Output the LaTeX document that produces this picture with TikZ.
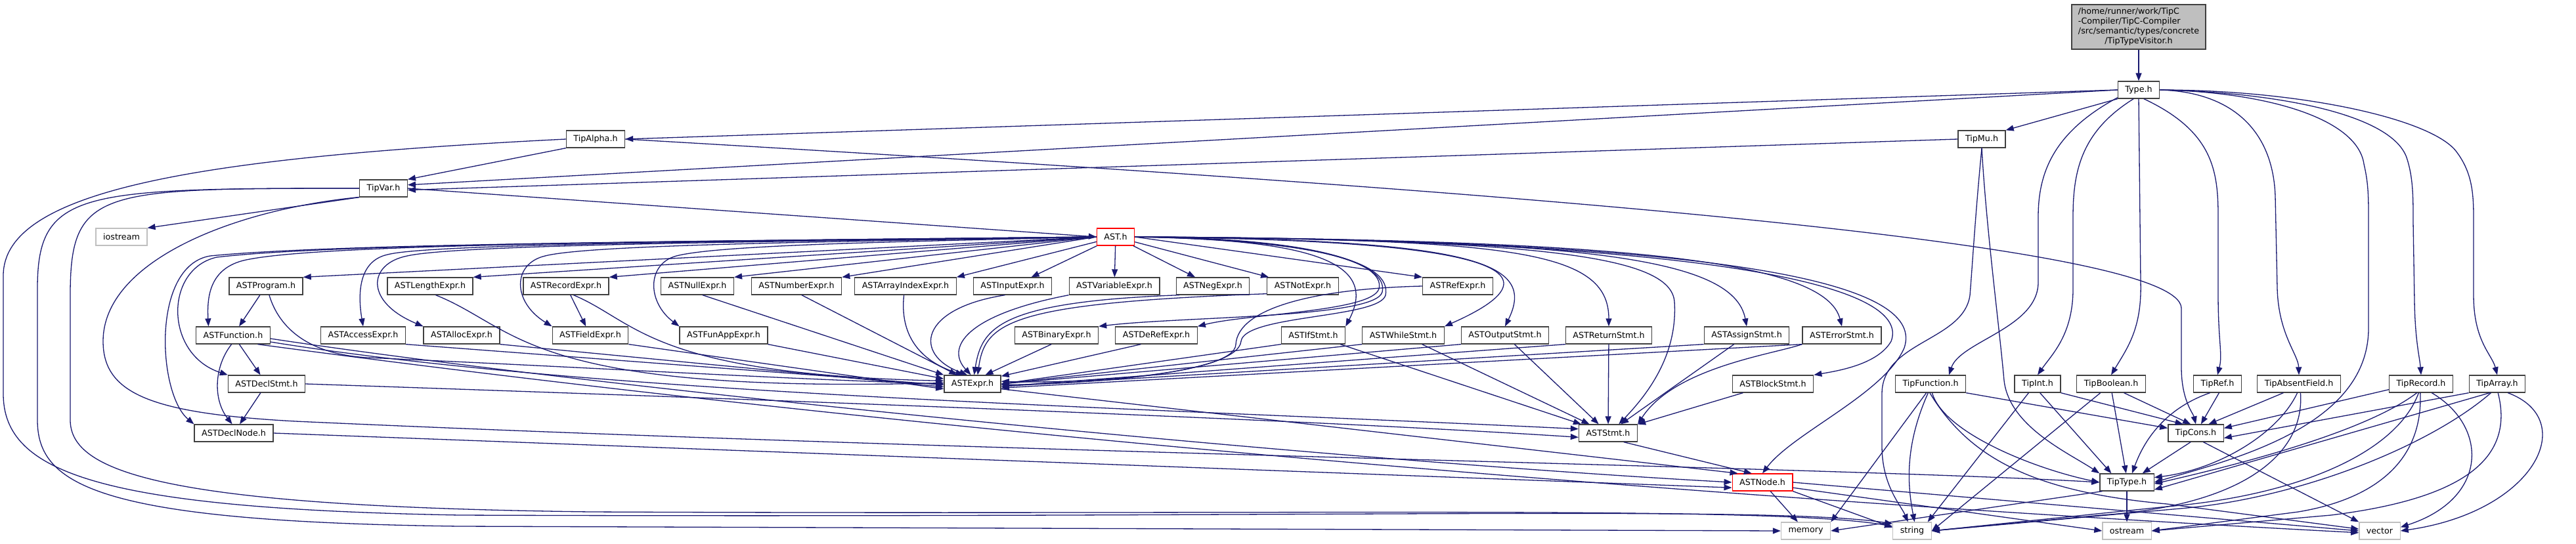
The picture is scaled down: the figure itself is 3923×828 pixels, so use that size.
\documentclass[tikz,border=0pt]{standalone}
\usepackage{fontspec}
\setmainfont{DejaVu Sans}
\usetikzlibrary{arrows.meta,calc}
\definecolor{edgeblue}{HTML}{191970}
\definecolor{extgray}{HTML}{BFBFBF}
\tikzset{
  box/.style={draw=black!75, line width=1.3pt, fill=white, minimum height=26pt, inner xsep=11pt, inner ysep=0pt, font=\fontsize{12.7}{15}\selectfont, text=black},
  extbox/.style={box, draw=extgray},
  redbox/.style={box, draw=red},
  topbox/.style={box, fill=extgray, inner xsep=10pt, inner ysep=4pt},
  e/.style={draw=edgeblue, line width=1.3pt, -{Triangle[length=12pt,width=9pt]}},
}
\begin{document}
\begin{tikzpicture}[x=1pt,y=-1pt]
\useasboundingbox (0,0) rectangle (3923,828);
% ---------------- nodes ----------------
\node[topbox] (top) at (3257,41) {\begin{tabular}{@{}l@{}}/home/runner/work/TipC\\-Compiler/TipC-Compiler\\/src/semantic/types/concrete\\\multicolumn{1}{@{}c@{}}{/TipTypeVisitor.h}\end{tabular}};
\node[box] (type) at (3257,137) {Type.h};
\node[box] (tipalpha) at (907,212) {TipAlpha.h};
\node[box] (tipmu) at (3018,212) {TipMu.h};
\node[box] (tipvar) at (584,287) {TipVar.h};
\node[extbox] (iostream) at (185,361) {iostream};
\node[redbox] (ast) at (1699,361) {AST.h};
% row 1
\node[box] (astprogram) at (405,436) {ASTProgram.h};
\node[box] (astlength) at (655,436) {ASTLengthExpr.h};
\node[box] (astrecord) at (862,436) {ASTRecordExpr.h};
\node[box] (astnull) at (1062,436) {ASTNullExpr.h};
\node[box] (astnumber) at (1213,436) {ASTNumberExpr.h};
\node[box] (astarrayindex) at (1379,436) {ASTArrayIndexExpr.h};
\node[box] (astinput) at (1542,436) {ASTInputExpr.h};
\node[box] (astvariable) at (1697,436) {ASTVariableExpr.h};
\node[box] (astneg) at (1847,436) {ASTNegExpr.h};
\node[box] (astnot) at (1984,436) {ASTNotExpr.h};
\node[box] (astref) at (2220,436) {ASTRefExpr.h};
% row 2
\node[box] (astfunction) at (355,511) {ASTFunction.h};
\node[box] (astaccess) at (553,511) {ASTAccessExpr.h};
\node[box] (astalloc) at (703,511) {ASTAllocExpr.h};
\node[box] (astfield) at (899,511) {ASTFieldExpr.h};
\node[box] (astfunapp) at (1102,511) {ASTFunAppExpr.h};
\node[box] (astbinary) at (1609,511) {ASTBinaryExpr.h};
\node[box] (astderef) at (1761,511) {ASTDeRefExpr.h};
\node[box] (astif) at (2000,511) {ASTIfStmt.h};
\node[box] (astwhile) at (2137,511) {ASTWhileStmt.h};
\node[box] (astoutput) at (2292,511) {ASTOutputStmt.h};
\node[box] (astreturn) at (2450,511) {ASTReturnStmt.h};
\node[box] (astassign) at (2660,511) {ASTAssignStmt.h};
\node[box] (asterror) at (2805,511) {ASTErrorStmt.h};
% row 3
\node[box] (astdeclstmt) at (406,585) {ASTDeclStmt.h};
\node[box] (astexpr) at (1481,585) {ASTExpr.h};
\node[box] (astblock) at (2700,585) {ASTBlockStmt.h};
\node[box] (tipfunction) at (2940,585) {TipFunction.h};
\node[box] (tipint) at (3103,585) {TipInt.h};
\node[box] (tipboolean) at (3215,585) {TipBoolean.h};
\node[box] (tipref) at (3377,585) {TipRef.h};
\node[box] (tipabsent) at (3501,585) {TipAbsentField.h};
\node[box] (tiprecord) at (3687,585) {TipRecord.h};
\node[box] (tiparray) at (3803,585) {TipArray.h};
% row 4
\node[box] (astdeclnode) at (356,660) {ASTDeclNode.h};
\node[box] (aststmt) at (2449,660) {ASTStmt.h};
\node[box] (tipcons) at (3344,660) {TipCons.h};
% row 5
\node[redbox] (astnode) at (2684,735) {ASTNode.h};
\node[box] (tiptype) at (3239,735) {TipType.h};
% row 6
\node[extbox] (memory) at (2750,809) {memory};
\node[extbox] (string) at (2912,809) {string};
\node[extbox] (ostream) at (3239,809) {ostream};
\node[extbox] (vector) at (3624,809) {vector};
% ---------------- edges ----------------
\draw[e] (top) -- (type);
% Type.h
\draw[e] (type.west) -- (tipalpha.east);
\draw[e] (type.west) -- (tipvar.8);
\draw[e] (type.south west) -- (tipmu.north east);
\draw[e] (type.200) .. controls (3130,200) and (3104,260) .. (3104,330) -- (3104,430) .. controls (3104,500) and (2985,520) .. (tipfunction.26);
\draw[e] (type.240) .. controls (3170,200) and (3157,260) .. (3157,330) -- (3157,440) .. controls (3157,510) and (3125,540) .. (tipint.north);
\draw[e] (type.south) -- (3260,430) .. controls (3262,500) and (3240,530) .. (tipboolean.north);
\draw[e] (type.-60) .. controls (3370,200) and (3378,260) .. (3378,330) -- (3378,450) .. controls (3378,520) and (3385,540) .. (tipref.north);
\draw[e] (type.east) .. controls (3400,140) and (3462,200) .. (3465,300) -- (3468,440) .. controls (3470,510) and (3500,540) .. (tipabsent.north);
\draw[e] (type.east) .. controls (3450,140) and (3590,180) .. (3600,250) .. controls (3607,280) and (3607,300) .. (3607,340) -- (3607,500) .. controls (3607,650) and (3400,700) .. (tiptype.east);
\draw[e] (type.east) .. controls (3450,140) and (3640,170) .. (3665,240) .. controls (3675,270) and (3675,300) .. (3675,340) -- (3677,460) .. controls (3678,520) and (3685,545) .. (tiprecord.north);
\draw[e] (type.east) .. controls (3500,137) and (3700,180) .. (3740,230) .. controls (3767,265) and (3767,300) .. (3767,340) -- (3767,450) .. controls (3767,520) and (3795,540) .. (tiparray.north);
% TipAlpha.h
\draw[e] (tipalpha.south west) -- (tipvar.north east);
\draw[e] (tipalpha.east) .. controls (2300,290) and (3322,370) .. (3322,470) -- (3322,560) .. controls (3322,610) and (3340,630) .. (tipcons.north);
\draw[e] (tipalpha.west) .. controls (300,240) and (5,290) .. (5,420) -- (5,600) .. controls (5,720) and (150,775) .. (700,785) .. controls (2000,790) and (2700,770) .. (string.160);
% TipVar.h
\draw[e] (tipvar.east) -- (ast.west);
\draw[e] (tipvar.south west) -- (iostream.north east);
\draw[e] (tipvar.west) .. controls (120,287) and (57,290) .. (57,440) -- (57,640) .. controls (57,740) and (150,795) .. (700,802) -- (memory.west);
\draw[e] (tipvar.west) .. controls (150,287) and (107,287) .. (107,450) -- (107,640) .. controls (107,720) and (250,772) .. (900,780) .. controls (2000,785) and (2700,770) .. (string.167);
\draw[e] (tipvar.200) .. controls (350,320) and (157,400) .. (157,520) .. controls (157,600) and (230,630) .. (450,642) .. controls (1500,690) and (2800,712) .. (tiptype.west);
% TipMu.h
\draw[e] (tipmu.west) -- (tipvar.-4);
\draw[e] (tipmu.south) .. controls (3025,350) and (3045,500) .. (3052,580) .. controls (3060,650) and (3150,690) .. (tiptype.north west);
\draw[e] (tipmu.south) .. controls (3008,330) and (3004,400) .. (3000,450) .. controls (2990,520) and (2866,520) .. (2866,600) -- (2866,680) .. controls (2866,740) and (2895,770) .. (string.115);
% TipFunction.h
\draw[e] (tipfunction.south east) -- (tipcons.170);
\draw[e] (tipfunction.-80) .. controls (2960,660) and (3100,715) .. (tiptype.west);
\draw[e] (tipfunction.-115) -- (memory.north east);
\draw[e] (tipfunction.-105) .. controls (2900,680) and (2905,740) .. (string.75);
\draw[e] (tipfunction.-95) .. controls (3000,700) and (3100,750) .. (3300,768) -- (vector.175);
% TipInt.h
\draw[e] (tipint.south east) -- (tipcons.145);
\draw[e] (tipint.-75) -- (tiptype.150);
\draw[e] (tipint.-135) -- (string.30);
% TipBoolean.h
\draw[e] (tipboolean.-35) -- (tipcons.120);
\draw[e] (tipboolean.-85) -- (tiptype.95);
\draw[e] (tipboolean.-140) -- (string.east);
% TipRef.h
\draw[e] (tipref.-80) -- (tipcons.60);
\draw[e] (tipref.-130) .. controls (3290,625) and (3262,680) .. (tiptype.60);
% TipAbsentField.h
\draw[e] (tipabsent.-150) -- (tipcons.35);
\draw[e] (tipabsent.-100) .. controls (3470,660) and (3380,715) .. (tiptype.10);
\draw[e] (tipabsent.-80) .. controls (3510,690) and (3420,770) .. (3200,785) -- (string.east);
% TipRecord.h
\draw[e] (tiprecord.190) -- (tipcons.10);
\draw[e] (tiprecord.-115) .. controls (3600,660) and (3400,710) .. (tiptype.-3);
\draw[e] (tiprecord.-105) .. controls (3650,690) and (3500,755) .. (3300,772) -- (string.east);
\draw[e] (tiprecord.-95) .. controls (3690,700) and (3620,760) .. (3500,780) -- (ostream.east);
\draw[e] (tiprecord.-40) .. controls (3790,650) and (3790,760) .. (vector.10);
% TipArray.h
\draw[e] (tiparray.south west) -- (tipcons.-10);
\draw[e] (tiparray.-130) -- (tiptype.-15);
\draw[e] (tiparray.-125) .. controls (3700,680) and (3500,760) .. (3320,775) -- (string.east);
\draw[e] (tiparray.-85) .. controls (3830,700) and (3750,760) .. (3550,785) -- (ostream.east);
\draw[e] (tiparray.-40) .. controls (3930,640) and (3860,780) .. (vector.east);
% TipCons.h, TipType.h
\draw[e] (tipcons.-120) -- (tiptype.30);
\draw[e] (tipcons.-50) -- (vector.north west);
\draw[e] (tiptype) -- (ostream);
\draw[e] (tiptype.200) -- (memory.east);
% ASTNode.h
\draw[e] (astnode) -- (memory);
\draw[e] (astnode.south east) -- (string.170);
\draw[e] (astnode.-10) -- (ostream.west);
\draw[e] (astnode.east) -- (vector.west);
% AST.h -> row 1
\draw[e] (ast.west) -- (astprogram.north east);
\draw[e] (ast.west) -- (astlength.north east);
\draw[e] (ast.west) -- (astrecord.north east);
\draw[e] (ast.west) -- (astnull.north east);
\draw[e] (ast.west) -- (astnumber.north east);
\draw[e] (ast) -- (astarrayindex.north east);
\draw[e] (ast) -- (astinput);
\draw[e] (ast) -- (astvariable);
\draw[e] (ast) -- (astneg);
\draw[e] (ast) -- (astnot);
\draw[e] (ast.east) -- (astref.north west);
% AST.h -> left lower nodes
\draw[e] (ast.west) .. controls (1000,368) and (500,372) .. (380,395) .. controls (320,405) and (315,450) .. (astfunction.160);
\draw[e] (ast.west) .. controls (1000,368) and (500,372) .. (330,392) .. controls (250,410) and (250,540) .. (astdeclstmt.north west);
\draw[e] (ast.west) .. controls (1000,368) and (500,372) .. (320,390) .. controls (230,405) and (240,600) .. (astdeclnode.north west);
\draw[e] (ast.west) .. controls (1100,368) and (650,372) .. (590,388) .. controls (545,398) and (545,450) .. (astaccess.north);
\draw[e] (ast.west) .. controls (1200,368) and (700,372) .. (620,390) .. controls (560,402) and (555,460) .. (astalloc.north west);
\draw[e] (ast.west) .. controls (1300,368) and (900,372) .. (830,390) .. controls (780,402) and (780,460) .. (astfield.north west);
\draw[e] (ast.west) .. controls (1400,368) and (1100,372) .. (1030,390) .. controls (985,402) and (985,460) .. (astfunapp.north west);
% AST.h -> middle / right
\draw[e] (ast.east) .. controls (2000,362) and (2110,400) .. (2100,440) .. controls (2090,475) and (1900,478) .. (astderef.north east);
\draw[e] (ast.east) .. controls (2000,364) and (2115,400) .. (2105,445) .. controls (2095,485) and (1800,482) .. (astbinary.north east);
\draw[e] (ast.east) .. controls (2010,366) and (2120,400) .. (2110,450) .. controls (2100,485) and (1895,480) .. (1890,520) .. controls (1885,570) and (1650,585) .. (astexpr.-2);
\draw[e] (ast.east) .. controls (2000,365) and (2100,400) .. (astif.north east);
\draw[e] (ast.east) .. controls (2200,365) and (2420,400) .. (astwhile.north east);
\draw[e] (ast.east) .. controls (2250,365) and (2340,400) .. (astoutput.north);
\draw[e] (ast.east) .. controls (2300,365) and (2450,380) .. (astreturn.north);
\draw[e] (ast.east) .. controls (2400,365) and (2640,390) .. (astassign.north);
\draw[e] (ast.east) .. controls (2500,365) and (2780,400) .. (asterror.north);
\draw[e] (ast.east) .. controls (2350,365) and (2545,390) .. (2550,460) .. controls (2555,540) and (2510,600) .. (aststmt.40);
\draw[e] (ast.east) .. controls (2650,365) and (2910,440) .. (2880,520) .. controls (2860,555) and (2800,565) .. (astblock.north east);
\draw[e] (ast.east) .. controls (2700,365) and (2930,440) .. (2900,530) .. controls (2870,600) and (2730,660) .. (astnode.north);
% ASTProgram / ASTFunction / decls
\draw[e] (astprogram) -- (astfunction);
\draw[e] (astprogram.-70) .. controls (425,500) and (470,540) .. (560,545) .. controls (900,560) and (1200,578) .. (astexpr.west);
\draw[e] (astfunction) -- (astdeclstmt);
\draw[e] (astfunction.-100) .. controls (325,560) and (325,610) .. (astdeclnode.100);
\draw[e] (astfunction.-10) .. controls (900,600) and (1700,620) .. (aststmt.172);
\draw[e] (astfunction.-5) .. controls (900,590) and (2000,700) .. (astnode.west);
\draw[e] (astfunction.-20) .. controls (1400,660) and (2600,760) .. (vector.185);
\draw[e] (astdeclstmt) -- (astdeclnode);
\draw[e] (astdeclstmt.east) .. controls (1200,610) and (2000,640) .. (aststmt.188);
\draw[e] (astdeclnode.east) -- (astnode.190);
% expressions -> ASTExpr
\draw[e] (astlength.-58) .. controls (790,500) and (800,600) .. (astexpr.178);
\draw[e] (astaccess.south east) -- (astexpr.182);
\draw[e] (astalloc.south east) -- (astexpr.186);
\draw[e] (astrecord) -- (astfield);
\draw[e] (astrecord.-50) .. controls (970,490) and (990,570) .. (astexpr.174);
\draw[e] (astfield.south east) -- (astexpr.190);
\draw[e] (astfunapp.south east) -- (astexpr.170);
\draw[e] (astnull.-60) -- (astexpr.north west);
\draw[e] (astnumber.-60) -- (astexpr.150);
\draw[e] (astarrayindex.-100) .. controls (1370,510) and (1400,550) .. (astexpr.135);
\draw[e] (astinput.-130) .. controls (1400,470) and (1390,540) .. (astexpr.120);
\draw[e] (astvariable.south west) .. controls (1470,480) and (1440,530) .. (astexpr.100);
\draw[e] (astneg.-165) .. controls (1520,460) and (1495,500) .. (astexpr.80);
\draw[e] (astnot.-168) .. controls (1540,462) and (1500,490) .. (astexpr.60);
\draw[e] (astbinary.-120) -- (astexpr.35);
\draw[e] (astderef.-150) -- (astexpr.15);
\draw[e] (astref.west) .. controls (2000,440) and (1885,470) .. (1882,525) .. controls (1880,570) and (1650,585) .. (astexpr.5);
% statements
\draw[e] (astif.south west) -- (astexpr.east);
\draw[e] (astwhile.south west) -- (astexpr.east);
\draw[e] (astoutput.south west) -- (astexpr.east);
\draw[e] (astreturn.south west) -- (astexpr.-5);
\draw[e] (astassign.south west) -- (astexpr.-5);
\draw[e] (asterror.south west) -- (astexpr.-8);
\draw[e] (astif) -- (aststmt);
\draw[e] (astwhile) -- (aststmt);
\draw[e] (astoutput) -- (aststmt);
\draw[e] (astreturn) -- (aststmt);
\draw[e] (astassign) -- (aststmt);
\draw[e] (asterror.south west) .. controls (2700,540) and (2550,560) .. (aststmt.north east);
\draw[e] (astblock) -- (aststmt);
\draw[e] (astexpr.-10) -- (astnode.160);
\draw[e] (aststmt.-30) -- (astnode.140);
\end{tikzpicture}
\end{document}
